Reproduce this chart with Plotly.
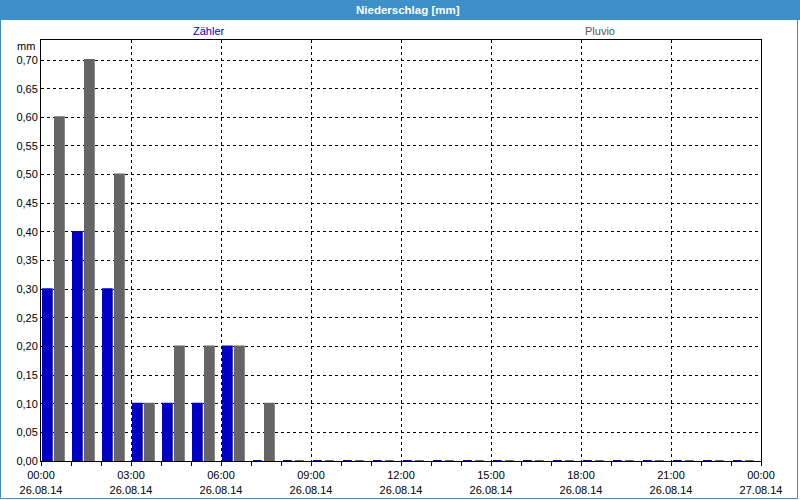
import plotly.graph_objects as go
import pandas as pd

# ---- data ----
hour_starts = pd.date_range("2014-08-26 00:00", periods=24, freq="h")
zaehler = [0.30, 0.40, 0.30, 0.10, 0.10, 0.10, 0.20, 0.0,
           0.0, 0.0, 0.0, 0.0, 0.0, 0.0, 0.0, 0.0,
           0.0, 0.0, 0.0, 0.0, 0.0, 0.0, 0.0, 0.0]
pluvio = [0.60, 0.70, 0.50, 0.10, 0.20, 0.20, 0.20, 0.10,
          0.0, 0.0, 0.0, 0.0, 0.0, 0.0, 0.0, 0.0,
          0.0, 0.0, 0.0, 0.0, 0.0, 0.0, 0.0, 0.0]
tick_vals = pd.date_range("2014-08-26 00:00", periods=9, freq="3h")
tick_labels = ["00:00<br>26.08.14", "03:00<br>26.08.14", "06:00<br>26.08.14",
               "09:00<br>26.08.14", "12:00<br>26.08.14", "15:00<br>26.08.14",
               "18:00<br>26.08.14", "21:00<br>26.08.14", "00:00<br>27.08.14"]
series_names = ["Zähler", "Pluvio"]

BLUE = "#0000C4"
GRAY = "#666466"
FRAME = "#3C8FC7"
MIN = 60 * 1000
FONT = "Liberation Sans"

W, H = 800, 500
L, R, T, B = 41, 39, 40, 39
PW, PH = W - L - R, H - T - B


def px(x):
    return (x - L) / PW


def py(y):
    return (H - B - y) / PH


fig = go.Figure()
fig.add_trace(go.Bar(x=hour_starts, y=zaehler, name=series_names[0],
                     offset=4 * MIN, width=17.5 * MIN,
                     marker=dict(color=BLUE, line=dict(color=BLUE, width=2))))
fig.add_trace(go.Bar(x=hour_starts, y=pluvio, name=series_names[1],
                     offset=28 * MIN, width=17.5 * MIN,
                     marker=dict(color=GRAY, line=dict(color=GRAY, width=2))))

fig.update_layout(
    width=W, height=H,
    margin=dict(l=L, r=R, t=T, b=B, autoexpand=False),
    paper_bgcolor="white", plot_bgcolor="white",
    barmode="overlay", showlegend=False,
    separators=",.",
    font=dict(family=FONT, size=11, color="black"),
    xaxis=dict(
        type="date", automargin=False,
        range=["2014-08-26 00:00", "2014-08-27 00:00"],
        tickvals=tick_vals, ticktext=tick_labels,
        ticks="outside", ticklen=4, tickcolor="black", ticklabelstandoff=0,
        showgrid=True, gridcolor="black", griddash="3px,3px", gridwidth=1,
        showline=True, linecolor="black", linewidth=1, mirror=True,
        minor=dict(dtick=3600000, tick0="2014-08-26 00:00", ticks="outside",
                   ticklen=4, tickcolor="black", showgrid=False),
        tickfont=dict(family=FONT, size=11),
        fixedrange=True,
    ),
    yaxis=dict(
        automargin=False,
        range=[0, 0.735], dtick=0.05, tick0=0, tickformat=".2f",
        ticks="", showgrid=True, gridcolor="black", griddash="3px,3px",
        gridwidth=1, zeroline=False,
        showline=True, linecolor="black", linewidth=1, mirror=True,
        tickfont=dict(family=FONT, size=11),
        fixedrange=True,
    ),
    shapes=[
        dict(type="rect", xref="paper", yref="paper",
             x0=px(0), x1=px(800), y0=py(20), y1=py(0),
             fillcolor=FRAME, line=dict(width=0), layer="below"),
        dict(type="rect", xref="paper", yref="paper",
             x0=px(0.5), x1=px(797.5), y0=py(498.5), y1=py(0.5),
             fillcolor="rgba(0,0,0,0)", line=dict(color=FRAME, width=1)),
    ],
    annotations=[
        dict(text="<b>Niederschlag [mm]</b>", x=px(408), y=py(10),
             xref="paper", yref="paper", xanchor="center", yanchor="middle",
             showarrow=False, font=dict(family=FONT, size=11.5, color="white")),
        dict(text=series_names[0], x=px(209), y=py(31),
             xref="paper", yref="paper", xanchor="center", yanchor="middle",
             showarrow=False, font=dict(family=FONT, size=11, color=BLUE)),
        dict(text=series_names[1], x=px(600), y=py(31),
             xref="paper", yref="paper", xanchor="center", yanchor="middle",
             showarrow=False, font=dict(family=FONT, size=11, color="#555555")),
        dict(text="mm", x=px(37), y=py(46),
             xref="paper", yref="paper", xanchor="right", yanchor="middle",
             showarrow=False, font=dict(family=FONT, size=11, color="black")),
    ],
)

fig.write_html("out.html", config=dict(displayModeBar=False))
